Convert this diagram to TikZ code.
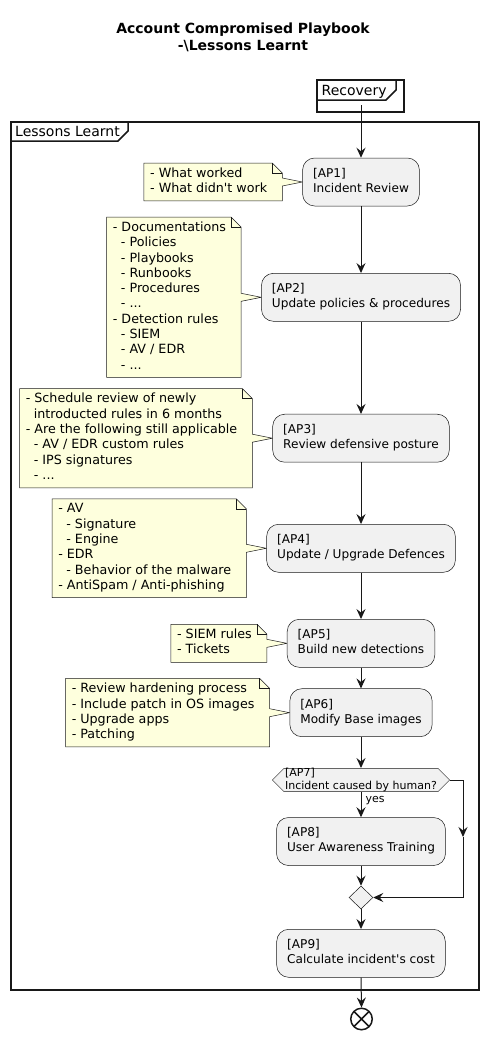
\documentclass[tikz,border=0pt]{standalone}
\usepackage{fontspec}
\setmainfont{DejaVu Sans}
\usetikzlibrary{arrows.meta,shapes.geometric,shapes.symbols,backgrounds,calc}
\definecolor{actfill}{HTML}{F1F1F1}
\definecolor{notefill}{HTML}{FEFFDD}
\definecolor{edge}{HTML}{181818}
\newcommand\ind{\hspace*{0.636em}}
\newcommand\drawnote[2]{%
  \path[draw=edge, line width=0.5pt, fill=notefill]
    ($(#1.north west)+(-6,-4.5)$) -- ($(#1.north east)+(5,-4.5)$) --
    ($(#1.north east)+(15,5.5)$) -- ($(#1.east)+(15,-4)$) -- (#2.west) --
    ($(#1.east)+(15,4)$) -- ($(#1.south east)+(15,4.5)$) --
    ($(#1.south west)+(-6,4.5)$) -- cycle;
  \draw[edge, line width=0.5pt] ($(#1.north east)+(5,-4.5)$) --
    ($(#1.north east)+(5,5.5)$) -- ($(#1.north east)+(15,5.5)$);
}
\begin{document}
\begin{tikzpicture}[x=1pt,y=-1pt,
  act/.style={draw=edge, line width=0.5pt, fill=actfill, rounded corners=12pt,
    align=left, inner xsep=10.5pt, inner ysep=0pt, minimum height=48pt,
    font=\fontsize{12.1}{15}\selectfont,
    execute at begin node={\vrule height 11.5pt depth 0pt width 0pt},
    execute at end node={\vrule height 0pt depth 3.5pt width 0pt}},
  notetext/.style={align=left, inner sep=0pt, anchor=east,
    font=\fontsize{12.7}{15.3}\selectfont,
    execute at begin node={\vrule height 11.7pt depth 0pt width 0pt},
    execute at end node={\vrule height 0pt depth 3.6pt width 0pt}},
  flow/.style={draw=edge, line width=1pt,
    -{Stealth[length=10pt,width=9pt,inset=3.5pt]}},
  framebox/.style={draw=edge, line width=1.5pt},
  framelbl/.style={anchor=base west, inner sep=0pt, font=\fontsize{14}{16}\selectfont},
  titlestyle/.style={anchor=base, inner sep=0pt, font=\fontsize{14}{16.7}\selectfont\bfseries},
]
\useasboundingbox (0,0) rectangle (488,1039);

% title
\node[titlestyle] (t1) at (243,33.3) {Account Compromised Playbook};
\node[titlestyle] (t2) at (243,50) {-\textbackslash Lessons Learnt};

% frames
\draw[framebox] (317,80) rectangle (404,112);
\draw[framebox] (317,100) -- (386,100) -- (396,90) -- (396,80);
\node[framelbl] (reclbl) at (321.5,95) {Recovery};
\draw[framebox] (11,122) rectangle (479,990);
\draw[framebox] (11,141) -- (118,141) -- (128,131) -- (128,122);
\node[framelbl] (lllbl) at (15,136.5) {Lessons Learnt};

% activities
\node[act] (a1) at (361,182) {[AP1]\\Incident Review};
\node[act] (a2) at (361,297.3) {[AP2]\\Update policies \& procedures};
\node[act] (a3) at (361,438.2) {[AP3]\\Review defensive posture};
\node[act] (a4) at (361,548.3) {[AP4]\\Update / Upgrade Defences};
\node[act] (a5) at (361,643.3) {[AP5]\\Build new detections};
\node[act] (a6) at (361,712.7) {[AP6]\\Modify Base images};
\node[signal, signal to=west and east, signal pointer angle=90,
  draw=edge, line width=0.5pt, fill=actfill, align=left,
  inner xsep=1pt, inner ysep=0pt, font=\fontsize{11}{12.8}\selectfont,
  execute at begin node={\vrule height 10.5pt depth 0pt width 0pt},
  execute at end node={\vrule height 0pt depth 2.3pt width 0pt}]
  (a7) at (361,780) {[AP7]\\Incident caused by human?};
\node[act] (a8) at (361,841.5) {[AP8]\\User Awareness Training};
\node[diamond, draw=edge, line width=0.5pt, fill=actfill,
  minimum width=24pt, minimum height=23pt, inner sep=0pt] (m) at (361,897.5) {};
\node[act] (a9) at (361,953.3) {[AP9]\\Calculate incident\textquotesingle s cost};
\node[circle, draw=edge, line width=1.5pt, minimum size=21.5pt, inner sep=0pt,
  path picture={\draw[edge, line width=1.5pt]
    (path picture bounding box.north west) -- (path picture bounding box.south east)
    (path picture bounding box.north east) -- (path picture bounding box.south west);}]
  (end) at (361.5,1019) {};

% notes
\node[notetext] (n1) at ([xshift=-35pt]a1.west) {- What worked\\- What didn\textquotesingle t work};
\node[notetext] (n2) at ([xshift=-35pt]a2.west) {- Documentations\\\ind- Policies\\\ind- Playbooks\\\ind- Runbooks\\\ind- Procedures\\\ind- ...\\- Detection rules\\\ind- SIEM\\\ind- AV / EDR\\\ind- ...};
\node[notetext] (n3) at ([xshift=-35pt]a3.west) {- Schedule review of newly\\\ind introducted rules in 6 months\\- Are the following still applicable\\\ind- AV / EDR custom rules\\\ind- IPS signatures\\\ind- ...};
\node[notetext] (n4) at ([xshift=-35pt]a4.west) {- AV\\\ind- Signature\\\ind- Engine\\- EDR\\\ind- Behavior of the malware\\- AntiSpam / Anti-phishing};
\node[notetext] (n5) at ([xshift=-35pt]a5.west) {- SIEM rules\\- Tickets};
\node[notetext] (n6) at ([xshift=-35pt]a6.west) {- Review hardening process\\- Include patch in OS images\\- Upgrade apps\\- Patching};

\begin{pgfonlayer}{background}
\drawnote{n1}{a1}
\drawnote{n2}{a2}
\drawnote{n3}{a3}
\drawnote{n4}{a4}
\drawnote{n5}{a5}
\drawnote{n6}{a6}
\end{pgfonlayer}

% connectors
\coordinate (rec) at (361,105);
\coordinate (rb) at (463,837);
\draw[flow] (rec) -- (a1.north);
\draw[flow] (a1.south) -- (a2.north);
\draw[flow] (a2.south) -- (a3.north);
\draw[flow] (a3.south) -- (a4.north);
\draw[flow] (a4.south) -- (a5.north);
\draw[flow] (a5.south) -- (a6.north);
\draw[flow] (a6.south) -- (a7.north);
\draw[flow] (a7.south) -- node[pos=0, anchor=base west, xshift=4pt, yshift=-11pt, inner sep=0pt, font=\fontsize{11}{13}\selectfont] (yes) {yes} (a8.north);
\draw[flow] (a7.east) -| (rb);
\draw[flow] (rb) |- (m.east);
\draw[flow] (a8.south) -- (m.north);
\draw[flow] (m.south) -- (a9.north);
\draw[flow] (a9.south) -- (end.north);
\end{tikzpicture}
\end{document}
